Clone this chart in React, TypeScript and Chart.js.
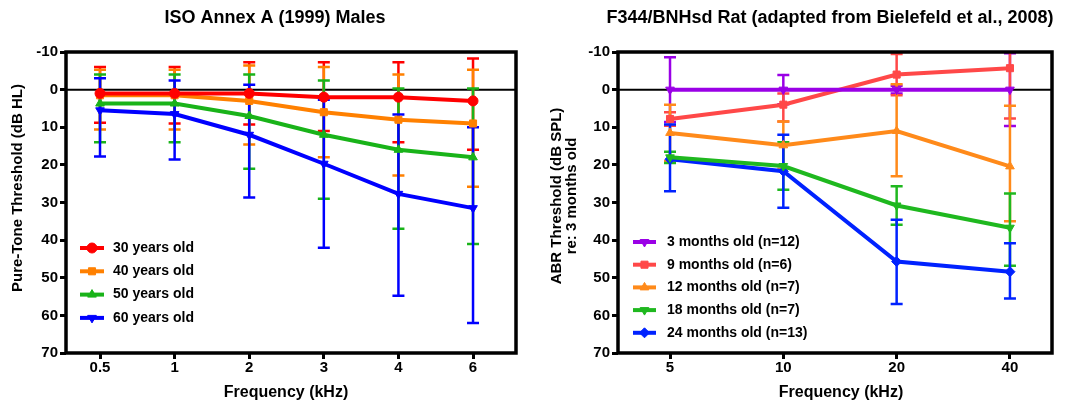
import React, { useEffect, useRef } from 'react';
import { Chart, registerables } from 'chart.js';
import { drawPoint } from 'chart.js/helpers';

Chart.register(...registerables);

// ---------- Left chart data (ISO Annex A) ----------
const leftTitle = 'ISO Annex A (1999) Males';
const leftYTitle = ['Pure-Tone Threshold (dB HL)'];
const leftXTitle = 'Frequency (kHz)';
const leftFreqLabels = ['0.5', '1', '2', '3', '4', '6'];
const leftSeriesLabels = ['30 years old', '40 years old', '50 years old', '60 years old'];
const leftColors = ['#ff0000', '#ff8000', '#19b319', '#0000ff'];
const leftStyles = ['circle', 'rect', 'triangle', 'triangle'];
const leftRotations = [0, 0, 0, 180];

const male30 = [1, 1, 1, 2, 2, 3];
const male30Top = [-6, -6, -7.3, -7.3, -7.3, -8.3];
const male30Bottom = [8.8, 9, 9.3, 11, 14, 16];

const male40 = [1.5, 1.5, 3, 6, 8, 9];
const male40Top = [-5.3, -5.3, -6.4, -6, -4, -5.3];
const male40Bottom = [10.6, 10.6, 14.6, 18, 22.8, 25.8];

const male50 = [3.7, 3.7, 7, 12, 16, 18];
const male50Top = [-4, -4, -4, -2.4, -0.3, -0.3];
const male50Bottom = [14, 14, 21, 29, 37, 41];

const male60 = [5.5, 6.5, 12, 19.7, 27.7, 31.5];
const male60Top = [-3, -2.4, -1.3, 2.7, 6.6, 10];
const male60Bottom = [17.8, 18.6, 28.7, 42, 54.8, 62];

// ---------- Right chart data (F344/BNHsd rat) ----------
const rightTitle = 'F344/BNHsd Rat (adapted from Bielefeld et al., 2008)';
const rightYTitle = ['ABR Threshold (dB SPL)', 're: 3 months old'];
const rightXTitle = 'Frequency (kHz)';
const rightFreqLabels = ['5', '10', '20', '40'];
const rightSeriesLabels = [
  '3 months old (n=12)',
  '9 months old (n=6)',
  '12 months old (n=7)',
  '18 months old (n=7)',
  '24 months old (n=13)',
];
const rightColors = ['#9a00e6', '#ff4848', '#ff8a1a', '#1fb81f', '#0022ff'];
const rightStyles = ['triangle', 'rect', 'triangle', 'triangle', 'rectRot'];
const rightRotations = [180, 0, 0, 180, 0];

const rat3 = [0, 0, 0, 0];
const rat3Top = [-8.6, -3.9, -1, -9.7];
const rat3Bottom = [8.6, 3.9, 1, 9.7];

const rat9 = [7.8, 4, -4, -5.7];
const rat9Top = [6, 1, -9.5, -10.5];
const rat9Bottom = [9.6, 8.5, 1.5, 7.7];

const rat12 = [11.5, 14.8, 11, 20.4];
const rat12Top = [4, 8.5, -1.4, 4.3];
const rat12Bottom = [19, 21, 23, 35];

const rat18 = [18, 20.3, 30.8, 36.7];
const rat18Top = [16.5, 14, 25.7, 27.6];
const rat18Bottom = [19.5, 26.6, 35.9, 46.8];

const rat24 = [18.5, 21.7, 45.7, 48.4];
const rat24Top = [9.3, 12, 34.6, 40.8];
const rat24Bottom = [27, 31.4, 57, 55.5];

const yMin = -10;
const yMax = 70;
const yStep = 10;

const FONT = '"Liberation Sans", Arial, sans-serif';

const decorPlugin = {
  id: 'decor',
  beforeDatasetsDraw(chart: any, _args: any, opts: any) {
    const { ctx, chartArea: a, scales } = chart;
    const x = scales.x;
    const y = scales.y;
    ctx.save();
    // zero reference line
    const y0 = y.getPixelForValue(0);
    ctx.strokeStyle = '#000';
    ctx.lineWidth = 2;
    ctx.beginPath();
    ctx.moveTo(a.left, y0);
    ctx.lineTo(a.right, y0);
    ctx.stroke();
    // error bars
    ctx.beginPath();
    ctx.rect(a.left, a.top - 1, a.right - a.left, a.bottom - a.top + 2);
    ctx.clip();
    chart.data.datasets.forEach((ds: any, i: number) => {
      const tops = opts.tops[i];
      const bots = opts.bottoms[i];
      ctx.strokeStyle = ds.borderColor;
      ctx.lineWidth = 2.5;
      ds.data.forEach((p: any, j: number) => {
        const px = x.getPixelForValue(p.x);
        const yt = y.getPixelForValue(tops[j]);
        const yb = y.getPixelForValue(bots[j]);
        ctx.beginPath();
        ctx.moveTo(px, yt);
        ctx.lineTo(px, yb);
        ctx.moveTo(px - 6, yt);
        ctx.lineTo(px + 6, yt);
        ctx.moveTo(px - 6, yb);
        ctx.lineTo(px + 6, yb);
        ctx.stroke();
      });
    });
    ctx.restore();
  },
  afterDraw(chart: any, _args: any, opts: any) {
    const { ctx, chartArea: a } = chart;
    ctx.save();
    // frame
    ctx.strokeStyle = '#000';
    ctx.lineWidth = 3.5;
    ctx.strokeRect(a.left, a.top, a.right - a.left, a.bottom - a.top);
    // title
    ctx.fillStyle = '#000';
    ctx.textAlign = 'center';
    ctx.textBaseline = 'middle';
    ctx.font = `bold 18px ${FONT}`;
    ctx.fillText(opts.title, opts.titleX, 18);
    // x title
    ctx.font = `bold 16px ${FONT}`;
    ctx.fillText(opts.xTitle, opts.xTitleX, 393);
    // y title
    ctx.save();
    ctx.font = `bold 15px ${FONT}`;
    ctx.translate(opts.yTitleX, opts.yTitleY);
    ctx.rotate(-Math.PI / 2);
    opts.yTitle.forEach((t: string, k: number) => {
      ctx.fillText(t, 0, k * 15);
    });
    ctx.restore();
    // legend
    chart.data.datasets.forEach((ds: any, i: number) => {
      const ly = opts.legendY + i * opts.legendDy;
      ctx.strokeStyle = ds.borderColor;
      ctx.fillStyle = ds.borderColor;
      ctx.lineWidth = 4;
      ctx.beginPath();
      ctx.moveTo(opts.legendX0, ly);
      ctx.lineTo(opts.legendX1, ly);
      ctx.stroke();
      ctx.lineWidth = 1;
      drawPoint(
        ctx,
        { pointStyle: ds.pointStyle, radius: 5, rotation: ds.pointRotation, borderWidth: 1 } as any,
        (opts.legendX0 + opts.legendX1) / 2,
        ly
      );
      ctx.fillStyle = '#000';
      ctx.textAlign = 'left';
      ctx.font = `bold 14px ${FONT}`;
      ctx.fillText(ds.label, opts.legendTextX, ly);
    });
    ctx.restore();
  },
};

function makeDatasets(labels: string[], series: number[][], colors: string[], styles: string[], rots: number[]) {
  return series.map((vals, i) => ({
    label: labels[i],
    data: vals.map((v, j) => ({ x: j, y: v })),
    borderColor: colors[i],
    backgroundColor: colors[i],
    borderWidth: 4,
    pointStyle: styles[i],
    pointRotation: rots[i],
    pointRadius: 5,
    pointBorderWidth: 1,
    tension: 0,
  }));
}

function makeConfig(p: any) {
  return {
    type: 'line',
    data: { datasets: makeDatasets(p.seriesLabels, p.series, p.colors, p.styles, p.rots) },
    options: {
      responsive: false,
      animation: false,
      devicePixelRatio: 1,
      layout: { padding: { top: 52, right: p.rightPad, left: 0, bottom: 0 } },
      plugins: {
        legend: { display: false },
        title: { display: false },
        tooltip: { enabled: false },
        decor: p.decor,
      },
      scales: {
        x: {
          type: 'linear',
          min: p.xMin,
          max: p.xMax,
          afterBuildTicks: (s: any) => {
            s.ticks = p.freqLabels.map((_: string, i: number) => ({ value: i }));
          },
          afterFit: (s: any) => {
            s.height = 56;
          },
          border: { display: false },
          grid: { drawOnChartArea: false, drawTicks: true, tickLength: 6, tickWidth: 3, tickColor: '#000' },
          ticks: {
            autoSkip: false,
            maxRotation: 0,
            padding: 0,
            color: '#000',
            font: { family: FONT, size: 15, weight: 'bold' },
            callback: (_v: any, idx: number) => p.freqLabels[idx],
          },
        },
        y: {
          type: 'linear',
          reverse: true,
          min: yMin,
          max: yMax,
          afterFit: (s: any) => {
            s.width = p.yWidth;
          },
          border: { display: false },
          grid: { drawOnChartArea: false, drawTicks: true, tickLength: 6, tickWidth: 3, tickColor: '#000' },
          ticks: {
            stepSize: yStep,
            padding: 2,
            color: '#000',
            font: { family: FONT, size: 15, weight: 'bold' },
          },
        },
      },
    },
    plugins: [decorPlugin],
  } as any;
}

function ChartCanvas({ width, config }: { width: number; config: any }) {
  const ref = useRef<HTMLCanvasElement>(null);
  useEffect(() => {
    if (!ref.current) return;
    const c = new Chart(ref.current, config);
    return () => c.destroy();
  }, []);
  return <canvas ref={ref} width={width} height={409} style={{ display: 'block', width, height: 409 }} />;
}

const leftConfig = makeConfig({
  seriesLabels: leftSeriesLabels,
  series: [male30, male40, male50, male60],
  colors: leftColors,
  styles: leftStyles,
  rots: leftRotations,
  freqLabels: leftFreqLabels,
  xMin: -0.456,
  xMax: 5.576,
  yWidth: 66,
  rightPad: 24,
  decor: {
    tops: [male30Top, male40Top, male50Top, male60Top],
    bottoms: [male30Bottom, male40Bottom, male50Bottom, male60Bottom],
    title: leftTitle,
    titleX: 275,
    xTitle: leftXTitle,
    xTitleX: 286,
    yTitle: leftYTitle,
    yTitleX: 18,
    yTitleY: 188,
    legendY: 248,
    legendDy: 23.3,
    legendX0: 80,
    legendX1: 104,
    legendTextX: 113,
  },
});

const rightConfig = makeConfig({
  seriesLabels: rightSeriesLabels,
  series: [rat3, rat9, rat12, rat18, rat24],
  colors: rightColors,
  styles: rightStyles,
  rots: rightRotations,
  freqLabels: rightFreqLabels,
  xMin: -0.459,
  xMax: 3.371,
  yWidth: 78,
  rightPad: 25,
  decor: {
    tops: [rat3Top, rat9Top, rat12Top, rat18Top, rat24Top],
    bottoms: [rat3Bottom, rat9Bottom, rat12Bottom, rat18Bottom, rat24Bottom],
    title: rightTitle,
    titleX: 290,
    xTitle: rightXTitle,
    xTitleX: 301,
    yTitle: rightYTitle,
    yTitleX: 17,
    yTitleY: 196,
    legendY: 242,
    legendDy: 22.7,
    legendX0: 93,
    legendX1: 116,
    legendTextX: 127,
  },
});

export default function App() {
  return (
    <div style={{ position: 'absolute', left: 0, top: 0, width: 1077, height: 409, display: 'flex', background: '#fff' }}>
      <ChartCanvas width={540} config={leftConfig} />
      <ChartCanvas width={537} config={rightConfig} />
    </div>
  );
}
